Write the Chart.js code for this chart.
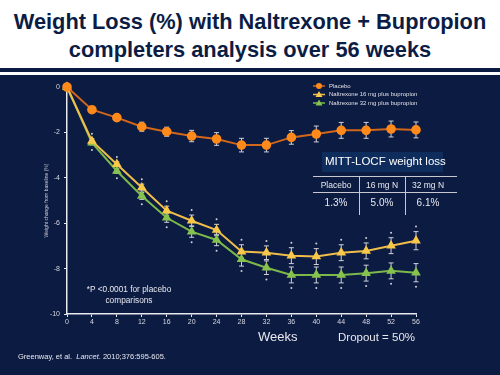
<!DOCTYPE html>
<html>
<head>
<meta charset="utf-8">
<script src="https://cdn.jsdelivr.net/npm/chart.js@4"></script>
<style>
  html, body { margin: 0; padding: 0; }
  body { width: 500px; height: 375px; position: relative; overflow: hidden; background: #fff; font-family: "Liberation Sans", Arial, sans-serif; }
  #title { position: absolute; top: 8px; left: 0; width: 500px; text-align: center; color: #0b1d45; font-weight: bold; font-size: 21.8px; line-height: 28px; }
  #band { position: absolute; top: 68px; left: 0; width: 500px; height: 4px; background: #0b1b42; }
  #panel { position: absolute; top: 75px; left: 0; width: 500px; height: 300px; background: #0b1b42; }
  #chartBox { position: absolute; top: 0; left: 0; width: 500px; height: 300px; }
  .txt { position: absolute; color: #e8e8ee; white-space: nowrap; }
  #mittBox { position: absolute; left: 322px; top: 77px; width: 121px; height: 20px; background: #0f2d5c; }
  #mittTitle { position: absolute; left: 325px; top: 80px; font-size: 11.5px; color: #fff; }
  .hline { position: absolute; left: 313px; width: 144px; height: 1px; background: #c8c8d0; }
  .vline { position: absolute; top: 101px; width: 1px; height: 39px; background: #c8c8d0; }
  .cell { position: absolute; width: 46px; text-align: center; color: #e8e8ee; }
</style>
</head>
<body>
<div id="title">Weight Loss (%) with Naltrexone + Bupropion<br>completers analysis over 56 weeks</div>
<div id="band"></div>
<div id="panel">
  <div id="chartBox"><canvas id="chart" width="500" height="300"></canvas></div>
  <div id="mittBox"></div>
  <div id="mittTitle">MITT-LOCF weight loss</div>
  <div class="hline" style="top:101px"></div>
  <div class="hline" style="top:117px"></div>
  <div class="vline" style="left:359px"></div>
  <div class="vline" style="left:405px"></div>
  <div class="cell" style="left:313px;top:105px;font-size:8.5px">Placebo</div>
  <div class="cell" style="left:359px;top:105px;font-size:8.5px">16 mg N</div>
  <div class="cell" style="left:405px;top:105px;font-size:8.5px">32 mg N</div>
  <div class="cell" style="left:313px;top:122px;font-size:10px">1.3%</div>
  <div class="cell" style="left:359px;top:122px;font-size:10px">5.0%</div>
  <div class="cell" style="left:405px;top:122px;font-size:10px">6.1%</div>
  <div class="txt" style="left:85px;top:209px;width:88px;text-align:center;font-size:8.3px;line-height:11px">*P &lt;0.0001 for placebo<br>comparisons</div>
  <div class="txt" style="left:258px;top:254px;font-size:13px">Weeks</div>
  <div class="txt" style="left:338px;top:256px;font-size:11.5px">Dropout = 50%</div>
  <div class="txt" style="left:18px;top:277px;font-size:7.5px">Greenway, et al.&nbsp; <i>Lancet</i>. 2010;376:595-605.</div>
</div>
<script>
// weeks on the x axis
const weeks = [0, 4, 8, 12, 16, 20, 24, 28, 32, 36, 40, 44, 48, 52, 56];
const seriesNames = ['Placebo', 'Naltrexone 16 mg plus bupropion', 'Naltrexone 32 mg plus bupropion'];

// mean weight change from baseline (%)
const placebo = [0, -1.0, -1.35, -1.75, -1.97, -2.16, -2.29, -2.56, -2.56, -2.22, -2.07, -1.91, -1.91, -1.85, -1.89];
const nb16 = [0, -2.38, -3.4, -4.43, -5.45, -5.89, -6.3, -7.25, -7.3, -7.43, -7.47, -7.3, -7.22, -6.99, -6.77];
const nb32 = [0, -2.45, -3.7, -4.8, -5.76, -6.37, -6.74, -7.59, -7.96, -8.28, -8.28, -8.28, -8.2, -8.1, -8.18];

// error bar half widths
const placeboErr = [0, 0.1, 0.1, 0.2, 0.2, 0.25, 0.28, 0.3, 0.3, 0.3, 0.35, 0.35, 0.35, 0.35, 0.35];
const nb16Err = [0, 0.1, 0.1, 0.15, 0.2, 0.25, 0.25, 0.3, 0.3, 0.35, 0.35, 0.35, 0.35, 0.35, 0.4];
const nb32Err = [0, 0.1, 0.1, 0.15, 0.2, 0.25, 0.25, 0.3, 0.3, 0.35, 0.35, 0.35, 0.35, 0.35, 0.4];

const yTicks = [0, -2, -4, -6, -8, -10];

const colors = {
  placeboLine: '#d2661a', placeboDot: '#ff8a1c',
  nb16Line: '#f0bd4a', nb16Dot: '#f8c84a',
  nb32Line: '#7cb84a', nb32Dot: '#86c24e'
};

function toPoints(vals) {
  return vals.map((v, i) => ({ x: weeks[i], y: v }));
}

const errs = [placeboErr, nb16Err, nb32Err];

// error bars, asterisks and legend
const extras = {
  id: 'extras',
  beforeDatasetsDraw(chart) {
    const ctx = chart.ctx;
    const x = chart.scales.x, y = chart.scales.y;
    ctx.save();
    ctx.strokeStyle = '#d0d0d8';
    ctx.lineWidth = 1;
    chart.data.datasets.forEach((ds, di) => {
      ds.data.forEach((p, i) => {
        const e = errs[di][i];
        if (!e) return;
        const px = x.getPixelForValue(p.x);
        const top = y.getPixelForValue(p.y + e);
        const bot = y.getPixelForValue(p.y - e);
        ctx.beginPath();
        ctx.moveTo(px, top); ctx.lineTo(px, bot);
        ctx.moveTo(px - 2.5, top); ctx.lineTo(px + 2.5, top);
        ctx.moveTo(px - 2.5, bot); ctx.lineTo(px + 2.5, bot);
        ctx.stroke();
      });
    });
    // significance marks above 16 mg and below 32 mg
    ctx.fillStyle = '#d0d0d8';
    weeks.forEach((w, i) => {
      if (w === 0) return;
      const px = x.getPixelForValue(w);
      const up = y.getPixelForValue(nb16[i] + nb16Err[i]) - 5;
      const dn = y.getPixelForValue(nb32[i] - nb32Err[i]) + 5;
      ctx.beginPath(); ctx.arc(px, up, 1, 0, Math.PI * 2); ctx.fill();
      ctx.beginPath(); ctx.arc(px, dn, 1, 0, Math.PI * 2); ctx.fill();
    });
    ctx.restore();
  },
  afterDraw(chart) {
    const ctx = chart.ctx;
    const items = [
      { line: colors.placeboLine, dot: colors.placeboDot, style: 'circle' },
      { line: colors.nb16Line, dot: colors.nb16Dot, style: 'triangle' },
      { line: colors.nb32Line, dot: colors.nb32Dot, style: 'triangle' }
    ];
    ctx.save();
    ctx.font = '6px "Liberation Sans", Arial, sans-serif';
    ctx.textBaseline = 'middle';
    items.forEach((it, i) => {
      const lx = 313, ly = 11 + i * 8.5;
      ctx.strokeStyle = it.line; ctx.lineWidth = 1.5;
      ctx.beginPath(); ctx.moveTo(lx, ly); ctx.lineTo(lx + 12, ly); ctx.stroke();
      ctx.fillStyle = it.dot;
      ctx.beginPath();
      if (it.style === 'circle') {
        ctx.arc(lx + 6, ly, 3, 0, Math.PI * 2);
      } else {
        ctx.moveTo(lx + 6, ly - 3.5); ctx.lineTo(lx + 9.5, ly + 2.5); ctx.lineTo(lx + 2.5, ly + 2.5); ctx.closePath();
      }
      ctx.fill();
      ctx.fillStyle = '#e0e0e8';
      ctx.fillText(seriesNames[i], lx + 16, ly);
    });
    ctx.restore();
  }
};

new Chart(document.getElementById('chart').getContext('2d'), {
  type: 'line',
  data: {
    datasets: [
      {
        label: seriesNames[0], data: toPoints(placebo),
        borderColor: colors.placeboLine, backgroundColor: colors.placeboDot,
        pointBackgroundColor: colors.placeboDot, pointBorderColor: colors.placeboDot,
        pointStyle: 'circle', pointRadius: 3.8, borderWidth: 2, clip: false
      },
      {
        label: seriesNames[1], data: toPoints(nb16),
        borderColor: colors.nb16Line, backgroundColor: colors.nb16Dot,
        pointBackgroundColor: colors.nb16Dot, pointBorderColor: colors.nb16Dot,
        pointStyle: 'triangle', pointRadius: 3.6, borderWidth: 2, clip: false
      },
      {
        label: seriesNames[2], data: toPoints(nb32),
        borderColor: colors.nb32Line, backgroundColor: colors.nb32Dot,
        pointBackgroundColor: colors.nb32Dot, pointBorderColor: colors.nb32Dot,
        pointStyle: 'triangle', pointRadius: 3.6, borderWidth: 2, clip: false
      }
    ]
  },
  options: {
    responsive: false,
    animation: false,
    layout: { padding: { left: 0, top: 12, right: 84, bottom: 0 } },
    plugins: { legend: { display: false }, tooltip: { enabled: false } },
    scales: {
      x: {
        type: 'linear', min: 0, max: 56,
        afterFit(s) { s.height = 61; },
        afterBuildTicks(s) { s.ticks = weeks.map(v => ({ value: v })); },
        border: { color: '#e8e8ee', width: 1.5 },
        grid: { display: true, drawOnChartArea: false, color: '#e8e8ee', tickLength: 3 },
        ticks: { color: '#d8d8e0', font: { size: 7 }, padding: 1, maxRotation: 0 }
      },
      y: {
        min: -10, max: 0,
        afterFit(s) { s.width = 67; },
        afterBuildTicks(s) { s.ticks = yTicks.map(v => ({ value: v })); },
        border: { color: '#e8e8ee', width: 1.5 },
        grid: { display: true, drawOnChartArea: false, color: '#e8e8ee', tickLength: 3 },
        ticks: { color: '#d8d8e0', font: { size: 7 }, padding: 4 },
        title: {
          display: true, text: 'Weight change from baseline (%)',
          color: '#c8c8d0', font: { size: 5 }, padding: { top: 44, bottom: 0 }
        }
      }
    }
  },
  plugins: [extras]
});
</script>
</body>
</html>
